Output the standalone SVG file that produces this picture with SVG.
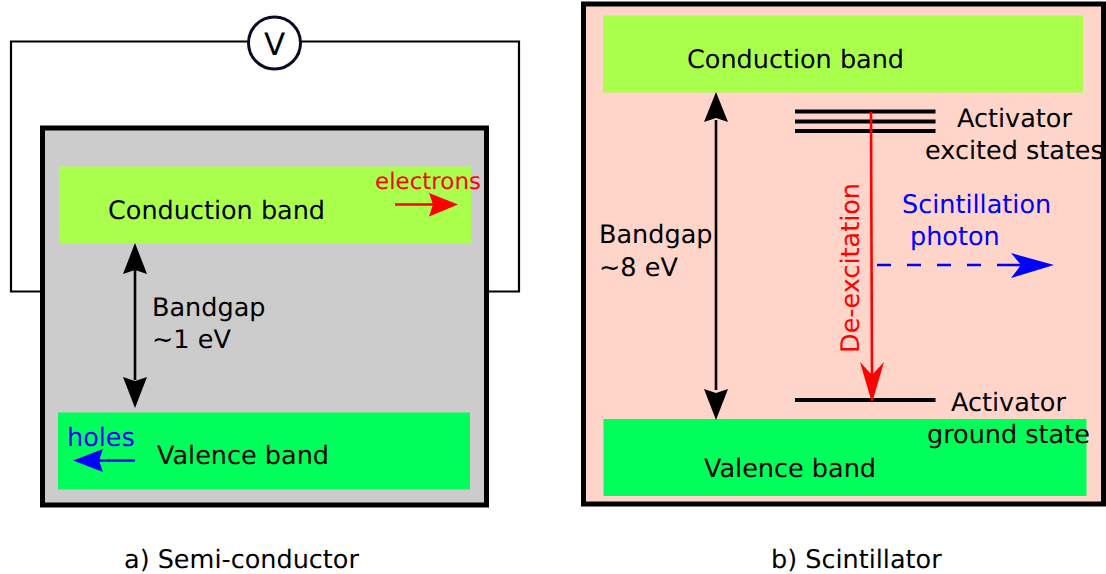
<svg xmlns="http://www.w3.org/2000/svg" width="1106" height="574" viewBox="0 0 1106 574">
<style>
text{font-family:"DejaVu Sans",sans-serif;font-size:25.500px;fill:#000;text-rendering:geometricPrecision}
.r{fill:#f00}.b{fill:#00f}
.box{stroke:#000;stroke-width:5}
.wire{fill:none;stroke:#000;stroke-width:2.200}
.lvl{stroke:#000;stroke-width:4;fill:none}
.shaft{stroke:#000;stroke-width:2.600;fill:none}
</style>
<rect width="1106" height="574" fill="#fff"/>
<g id="circuit">
<path class="wire" d="M42 291.500H11V41.500H519V291.500H488"/>
</g>
<g id="semiconductor">
<rect class="box" x="42.500" y="128" width="444" height="377" fill="#ccc"/>
<rect x="59" y="166.500" width="412" height="77" fill="#aaff4d"/>
<text x="108" y="219">Conduction band</text>
</g>
<g id="semi-valence">
<rect x="58" y="412.500" width="412" height="77" fill="#00ff5a"/>
<text x="157" y="464">Valence band</text>
</g>
<g id="voltmeter">
<circle cx="274.500" cy="43" r="26" fill="#fff" stroke="#0a0a24" stroke-width="3"/>
<text x="274.500" y="55" text-anchor="middle" style="font-size:31px">V</text>
</g>
<g id="semi-labels">
<text x="152" y="316">Bandgap</text>
<text x="152" y="348">~1 eV</text>
<text class="r" x="375" y="189" style="font-size:23px">electrons</text>
<text class="b" x="67" y="446">holes</text>
<text x="124" y="567.500">a) Semi-conductor</text>
</g>
<g id="scintillator">
<rect class="box" x="583.500" y="4" width="520" height="500" fill="#ffd5c9"/>
</g>
<g id="scint-conduction">
<rect x="603" y="15.500" width="480" height="77" fill="#aaff4d"/>
<text x="687" y="68">Conduction band</text>
</g>
<g id="scint-valence">
<rect x="603.500" y="419" width="483" height="77" fill="#00ff5a"/>
<text x="704" y="477">Valence band</text>
</g>
<g id="activator-excited">
<path class="lvl" d="M795 111.500H935.500M795 121.500H935.500M795 131H935.500"/>
<text x="957" y="127">Activator</text>
<text x="925" y="159">excited states</text>
</g>
<g id="activator-ground">
<path class="lvl" d="M795 400H935.500"/>
<text x="951" y="411">Activator</text>
<text x="927" y="443">ground state</text>
</g>
<g id="scint-labels">
<text x="599" y="243">Bandgap</text>
<text x="599" y="276">~8 eV</text>
<text class="b" x="902" y="213">Scintillation</text>
<text class="b" x="910" y="245">photon</text>
<text class="r" transform="translate(859 353) rotate(-90)">De-excitation</text>
<text x="771" y="567.500">b) Scintillator</text>
</g>
<g id="connectors">
<path class="shaft" d="M135 270V380"/>
<path d="M135 243L147 274L135 270L123 274Z"/>
<path d="M135 408L147 377L135 381L123 377Z"/>
<path class="shaft" d="M716 120V390"/>
<path d="M716 92L728 122L716 118L704 122Z"/>
<path d="M716 420L728 389L716 393L704 389Z"/>
<path d="M395 204.500H436" stroke="#f00" stroke-width="2.600" fill="none"/>
<path d="M458 204.500L429 216.500L433 204.500L429 193Z" fill="#f00"/>
<path d="M135 460.500H95" stroke="#00f" stroke-width="2.600" fill="none"/>
<path d="M73 460.500L103 449L99 460.500L103 472Z" fill="#00f"/>
<path d="M871 112L872 378" stroke="#f00" stroke-width="2.600" fill="none"/>
<path d="M872 403L860 362L872 375L884 362Z" fill="#f00"/>
<path d="M877 265H1025" stroke="#00f" stroke-width="2.400" stroke-dasharray="14 16 14 16 14 16 14 16 25 100" fill="none"/>
<path d="M1054 265L1011 253L1021 265L1011 278Z" fill="#00f"/>
</g>
</svg>
